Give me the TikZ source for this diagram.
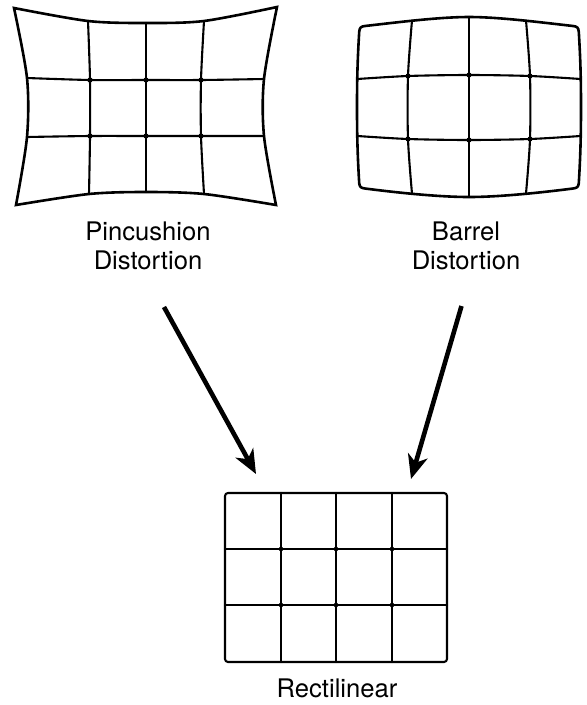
\documentclass[tikz,border=0pt]{standalone}
\usepackage{fontspec}
\setmainfont{TeX Gyre Heros}
\usetikzlibrary{arrows.meta}
\tikzset{
  gridline/.style={line width=2.1pt, line cap=round, line join=round},
  frameline/.style={line width=2.6pt, line cap=round},
  griddot/.style={fill=black},
  bigarrow/.style={line width=4.6pt, -{Stealth[length=24pt,width=20pt,inset=7pt]}},
  caption/.style={font=\fontsize{25.6}{29}\selectfont, align=center, inner sep=0pt, anchor=north}
}
\begin{document}
\begin{tikzpicture}[x=1pt,y=-1pt]
\useasboundingbox (0,0) rectangle (587,705);
% ---------- Pincushion ----------
\draw[frameline, line join=miter]
  plot[smooth] coordinates {(14,8) (88,21) (146,23) (204,21) (277,7)}
  -- plot[smooth] coordinates {(277,7) (264,79) (264,136) (276,205)}
  -- plot[smooth] coordinates {(276,205) (204,194) (146,192) (89,194) (16,205)}
  -- plot[smooth] coordinates {(16,205) (27,137) (27,78) (14,8)} -- cycle;
\draw[gridline] plot[smooth] coordinates {(27,78) (90,80) (146,80) (201,80) (264,79)};
\draw[gridline] plot[smooth] coordinates {(27,137) (90,136) (146,136) (201,136) (264,136)};
\draw[gridline] plot[smooth] coordinates {(88,21) (90,80) (90,136) (89,194)};
\draw[gridline] plot[smooth] coordinates {(146,23) (146,80) (146,136) (146,192)};
\draw[gridline] plot[smooth] coordinates {(204,21) (201,80) (201,136) (204,194)};
\foreach \p in {(90,80),(146,80),(201,80),(90,136),(146,136),(201,136)}
  \fill[griddot] \p circle (2.6);
\node[caption] (pinlabel) at (148,222) {Pincushion\\Distortion};
% ---------- Barrel ----------
\draw[frameline, line join=round]
  (365,26) .. controls (400,22) and (440,17) .. (469,17)
  .. controls (498,17) and (538,22) .. (573,26)
  .. controls (577,26.5) and (578.5,27.5) .. (578.8,32)
  .. controls (580.5,60) and (581,80) .. (581,107)
  .. controls (581,134) and (580.5,155) .. (578.8,183)
  .. controls (578.5,187) and (577,188) .. (573,188.5)
  .. controls (538,193) and (498,197) .. (469,197)
  .. controls (440,197) and (400,193) .. (365,188.5)
  .. controls (361,188) and (359.5,187) .. (359.2,183)
  .. controls (357.5,155) and (357,134) .. (357,107)
  .. controls (357,80) and (357.5,60) .. (359.2,32)
  .. controls (359.5,27.5) and (361,26.5) .. (365,26) -- cycle;
\draw[gridline] plot[smooth] coordinates {(357.5,79) (408,76) (469,75) (530,76) (580.5,79)};
\draw[gridline] plot[smooth] coordinates {(357.5,136) (408,139) (469,140) (530,139) (580.5,136)};
\draw[gridline] plot[smooth] coordinates {(412,20.5) (408,76) (408,139) (412,193.5)};
\draw[gridline] plot[smooth] coordinates {(469,17) (469,75) (469,140) (469,197)};
\draw[gridline] plot[smooth] coordinates {(526,20.5) (530,76) (530,139) (526,193.5)};
\foreach \p in {(408,76),(469,75),(530,76),(408,139),(469,140),(530,139)}
  \fill[griddot] \p circle (2.6);
\node[caption] (barlabel) at (466,222) {Barrel\\Distortion};
% ---------- Rectilinear ----------
\draw[gridline, rounded corners=3pt] (225,493) rectangle (447,662);
\foreach \x in {281,336,392} \draw[gridline] (\x,493) -- (\x,662);
\foreach \y in {549,605} \draw[gridline] (225,\y) -- (447,\y);
\foreach \x in {281,336,392} \foreach \y in {549,605}
  \fill[griddot] (\x,\y) circle (2.3);
\node[caption, text depth=0pt] (reclabel) at (337,679) {Rectilinear};
% ---------- Arrows ----------
\coordinate (a1s) at (164,307);
\coordinate (a1e) at (256,474);
\coordinate (a2s) at (461.5,306);
\coordinate (a2e) at (411,479);
\draw[bigarrow] (a1s) -- (a1e);
\draw[bigarrow] (a2s) -- (a2e);
\end{tikzpicture}
\end{document}
